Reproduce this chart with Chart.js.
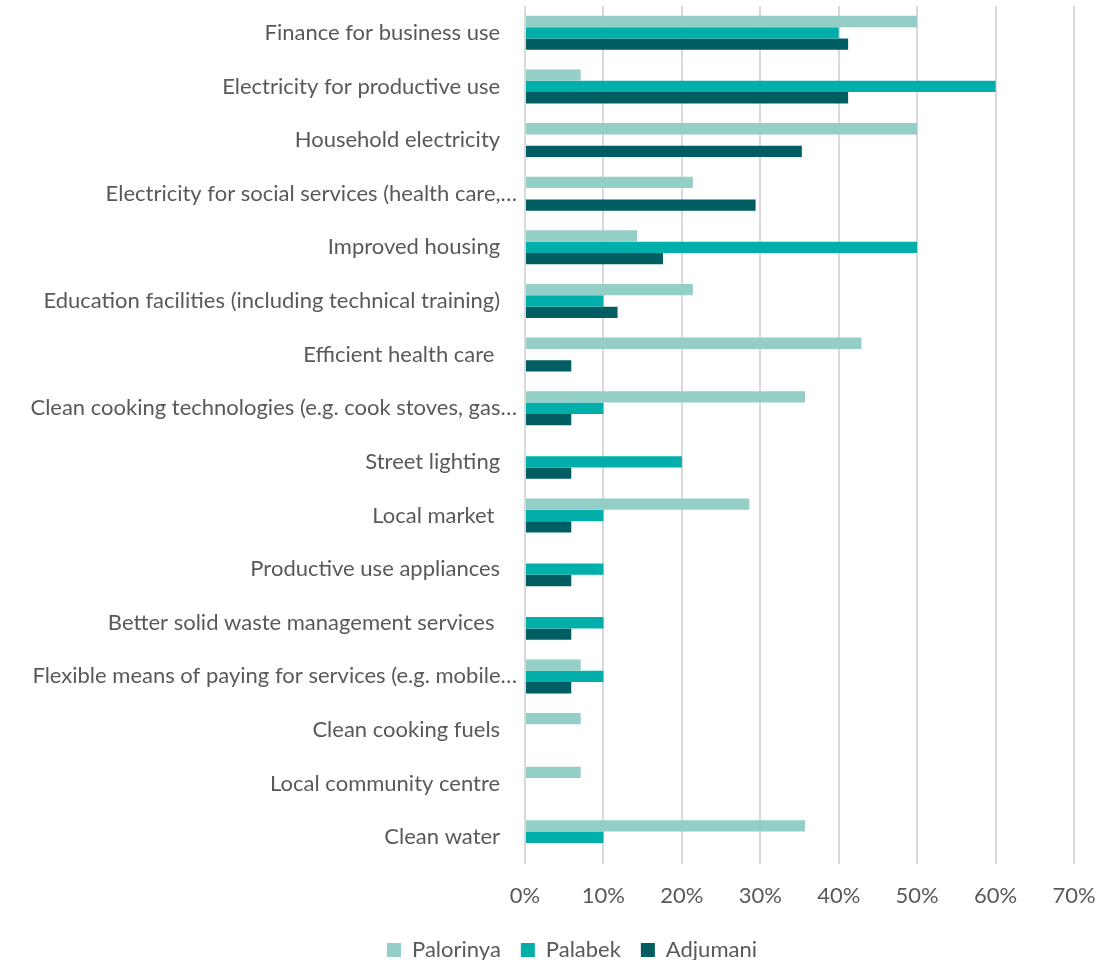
<!DOCTYPE html>
<html>
<head>
<meta charset="utf-8">
<title>Priority services by settlement</title>
<script src="https://cdn.jsdelivr.net/npm/chart.js@4.4.1/dist/chart.umd.min.js"></script>
<style>
  html, body { margin: 0; padding: 0; background: #ffffff; }
  #wrap { position: relative; width: 1115px; height: 960px; }
</style>
</head>
<body>
<div id="wrap"><canvas id="chart" width="1115" height="960"></canvas></div>
<script>
// Categories, top to bottom
const categories = [
  'Finance for business use',
  'Electricity for productive use',
  'Household electricity',
  'Electricity for social services (health care,…',
  'Improved housing',
  'Education facilities (including technical training)',
  'Efficient health care ',
  'Clean cooking technologies (e.g. cook stoves, gas…',
  'Street lighting',
  'Local market ',
  'Productive use appliances',
  'Better solid waste management services ',
  'Flexible means of paying for services (e.g. mobile…',
  'Clean cooking fuels',
  'Local community centre',
  'Clean water'
];

// Share of respondents (%) per settlement
const palorinya = [50, 7.1, 50, 21.4, 14.3, 21.4, 42.9, 35.7, 0, 28.6, 0, 0, 7.1, 7.1, 7.1, 35.7];
const palabek   = [40, 60, 0, 0, 50, 10, 0, 10, 20, 10, 10, 10, 10, 0, 0, 10];
const adjumani  = [41.2, 41.2, 35.3, 29.4, 17.6, 11.8, 5.9, 5.9, 5.9, 5.9, 5.9, 5.9, 5.9, 0, 0, 0];

// Value axis ticks (%)
const xTicks = [0, 10, 20, 30, 40, 50, 60, 70];

const FONT_FAMILY = 'Lato, "Open Sans", sans-serif';
const FONT_SIZE = 22;
const TEXT_COLOR = '#595959';
const GRID_COLOR = '#d9d9d9';

// Truncated labels carry a trailing ellipsis that hangs past the others,
// so the full labels get an equivalent run of blank space.
const measureCtx = document.createElement('canvas').getContext('2d');
measureCtx.font = FONT_SIZE + 'px ' + FONT_FAMILY;
const ellipsisW = measureCtx.measureText('…').width;
const spaceW = measureCtx.measureText(' ').width || 4;
const hangPad = ' '.repeat(Math.max(0, Math.round(ellipsisW / spaceW)));

// Shifts the legend block after layout
const legendShift = {
  id: 'legendShift',
  afterLayout(chart, args, opts) {
    const lg = chart.legend;
    if (!lg) return;
    lg.left += opts.dx; lg.right += opts.dx;
    lg.top += opts.dy; lg.bottom += opts.dy;
  }
};

new Chart(document.getElementById('chart'), {
  type: 'bar',
  data: {
    labels: categories,
    datasets: [
      { label: 'Palorinya', data: palorinya, backgroundColor: '#93cec7' },
      { label: 'Palabek',   data: palabek,   backgroundColor: '#00afaa' },
      { label: 'Adjumani',  data: adjumani,  backgroundColor: '#005e62' }
    ]
  },
  options: {
    indexAxis: 'y',
    responsive: false,
    animation: false,
    devicePixelRatio: 1,
    datasets: {
      bar: { categoryPercentage: 0.634, barPercentage: 1.0, borderWidth: 0 }
    },
    layout: { padding: { top: 6, right: 41, bottom: -20.5, left: 0 } },
    font: { family: FONT_FAMILY, size: FONT_SIZE },
    color: TEXT_COLOR,
    scales: {
      x: {
        min: xTicks[0],
        max: xTicks[xTicks.length - 1],
        afterBuildTicks(scale) { scale.ticks = xTicks.map(v => ({ value: v })); },
        grid: { color: GRID_COLOR, lineWidth: 2, drawTicks: false },
        border: { display: false },
        ticks: {
          padding: 19,
          color: TEXT_COLOR,
          font: { family: FONT_FAMILY, size: FONT_SIZE, lineHeight: 1.2 },
          callback: v => v + '%'
        }
      },
      y: {
        afterFit(scale) {
          scale.width = 525;
          scale.paddingTop = 0;
          scale.paddingBottom = 0;
        },
        grid: { display: false, drawTicks: false },
        border: { display: false },
        ticks: {
          padding: 8,
          color: TEXT_COLOR,
          font: { family: FONT_FAMILY, size: FONT_SIZE },
          callback(value, index) {
            const s = categories[index];
            return s.endsWith('…') ? s : s + hangPad;
          }
        }
      }
    },
    plugins: {
      legend: {
        position: 'bottom',
        labels: {
          boxWidth: 14,
          boxHeight: 14,
          padding: 20,
          color: TEXT_COLOR,
          font: { family: FONT_FAMILY, size: FONT_SIZE }
        }
      },
      legendShift: { dx: 35, dy: -9.5 },
      tooltip: { enabled: false }
    }
  },
  plugins: [legendShift]
});
</script>
</body>
</html>
